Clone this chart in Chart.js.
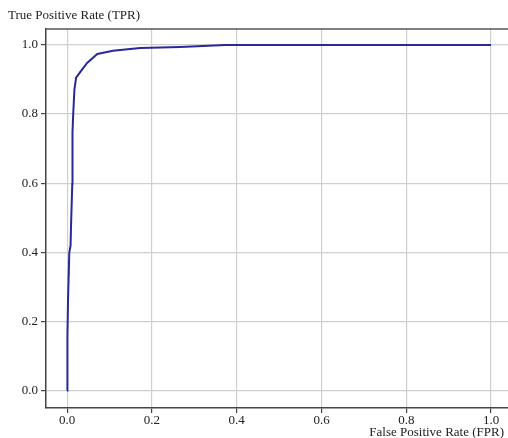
<!DOCTYPE html>
<html>
<head>
<meta charset="utf-8">
<script src="https://cdn.jsdelivr.net/npm/chart.js@4/dist/chart.umd.min.js"></script>
<style>
  html, body { margin: 0; padding: 0; background: #fff; }
  #wrap { width: 508px; height: 438px; }
</style>
</head>
<body>
<div id="wrap"><canvas id="roc" width="508" height="438"></canvas></div>
<script>
// ROC curve points
const fpr = [0, 0, 0.001, 0.002, 0.005, 0.008, 0.009, 0.012, 0.012, 0.013, 0.014, 0.017, 0.021, 0.031, 0.047, 0.071, 0.108, 0.172, 0.267, 0.373, 1.0];
const tpr = [0, 0.09, 0.156, 0.263, 0.40, 0.42, 0.474, 0.598, 0.668, 0.746, 0.795, 0.870, 0.905, 0.922, 0.948, 0.974, 0.983, 0.991, 0.994, 1.0, 1.0];
const xTicks = [0, 0.2, 0.4, 0.6, 0.8, 1.0];
const yTicks = [0, 0.2, 0.4, 0.6, 0.8, 1.0];
const xTitle = 'False Positive Rate (FPR)';
const yTitle = 'True Positive Rate (TPR)';

const serif = '"Liberation Serif", "DejaVu Serif", serif';

// axis titles + top frame line
const decor = {
    id: 'decor',
    afterDraw(chart) {
        const ctx = chart.ctx;
        const a = chart.chartArea;
        ctx.save();
        ctx.strokeStyle = '#555';
        ctx.lineWidth = 1.5;
        ctx.beginPath();
        ctx.moveTo(a.left, a.top);
        ctx.lineTo(a.right, a.top);
        ctx.stroke();
        ctx.fillStyle = '#222';
        ctx.font = '13px ' + serif;
        ctx.textBaseline = 'middle';
        ctx.textAlign = 'left';
        ctx.fillText(yTitle, 8, 16);
        ctx.textAlign = 'right';
        ctx.fillText(xTitle, 504, 433);
        ctx.restore();
    }
};

new Chart(document.getElementById('roc').getContext('2d'), {
    type: 'line',
    data: {
        datasets: [{
            data: fpr.map((v, i) => ({ x: v, y: tpr[i] })),
            borderColor: '#28289a',
            borderWidth: 2,
            pointRadius: 0,
            tension: 0,
            fill: false
        }]
    },
    options: {
        responsive: false,
        animation: false,
        devicePixelRatio: 1,
        layout: { padding: { top: 29, right: 0, left: 0, bottom: 0 } },
        plugins: { legend: { display: false }, tooltip: { enabled: false } },
        scales: {
            x: {
                type: 'linear',
                min: -0.05,
                max: 1.04,
                afterBuildTicks: s => { s.ticks = xTicks.map(v => ({ value: v })); },
                afterFit: s => { s.height = 30; },
                border: { color: '#444', width: 1.5 },
                grid: { color: '#cfcfcf', lineWidth: 1.2, tickColor: '#444', tickLength: 5 },
                ticks: {
                    padding: 0,
                    color: '#222',
                    maxRotation: 0,
                    font: { family: serif, size: 13 },
                    callback: v => v.toFixed(1)
                }
            },
            y: {
                min: -0.05,
                max: 1.046,
                afterBuildTicks: s => { s.ticks = yTicks.map(v => ({ value: v })); },
                afterFit: s => { s.width = 46; },
                border: { color: '#444', width: 1.5 },
                grid: { color: '#cfcfcf', lineWidth: 1.2, tickColor: '#444', tickLength: 5 },
                ticks: {
                    padding: 3,
                    color: '#222',
                    font: { family: serif, size: 13 },
                    callback: v => v.toFixed(1)
                }
            }
        }
    },
    plugins: [decor]
});
</script>
</body>
</html>
